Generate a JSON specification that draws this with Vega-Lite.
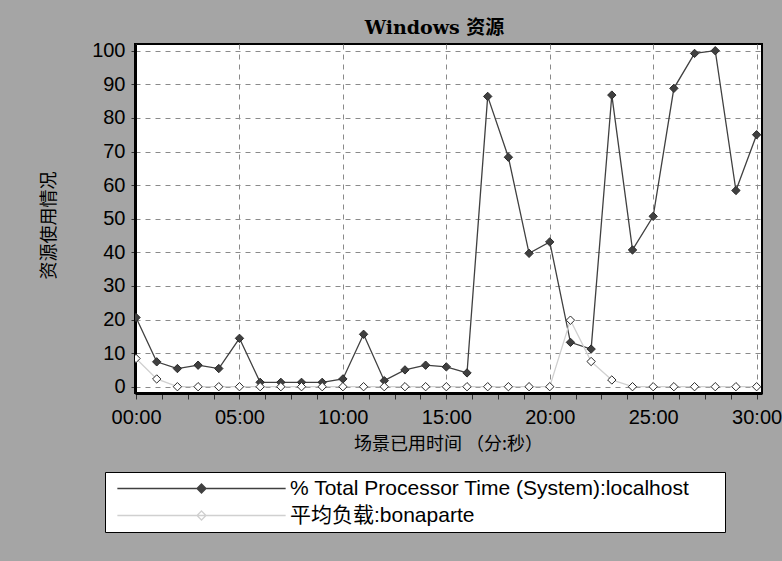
{
  "$schema": "https://vega.github.io/schema/vega-lite/v6.json",
  "width": 627,
  "height": 349,
  "autosize": {"type": "none"},
  "padding": {"left": 135, "top": 44, "right": 20, "bottom": 168},
  "background": "#a5a5a5",
  "title": {"text": "Windows  资源", "font": "DejaVu Serif, Noto Sans CJK SC", "fontSize": 19, "fontWeight": "bold", "color": "#000000", "anchor": "middle", "dx": -14, "dy": 20, "baseline": "middle", "offset": 14},
  "config": {
    "view": {"fill": "white", "stroke": "#000000", "strokeWidth": 2},
    "axis": {"labelFont": "Liberation Sans", "labelFontSize": 20, "labelColor": "#000000", "titleColor": "#000000", "gridColor": "#8a8a8a", "gridDash": [5, 5], "gridWidth": 1, "tickColor": "#303030", "domainColor": "#000000", "domainWidth": 3}
  },
  "data": {"values": [
    {"t": 0, "series": "% Total Processor Time (System):localhost", "v": 20.6},
    {"t": 1, "series": "% Total Processor Time (System):localhost", "v": 7.4},
    {"t": 2, "series": "% Total Processor Time (System):localhost", "v": 5.4},
    {"t": 3, "series": "% Total Processor Time (System):localhost", "v": 6.4},
    {"t": 4, "series": "% Total Processor Time (System):localhost", "v": 5.4},
    {"t": 5, "series": "% Total Processor Time (System):localhost", "v": 14.4},
    {"t": 6, "series": "% Total Processor Time (System):localhost", "v": 1.3},
    {"t": 7, "series": "% Total Processor Time (System):localhost", "v": 1.3},
    {"t": 8, "series": "% Total Processor Time (System):localhost", "v": 1.3},
    {"t": 9, "series": "% Total Processor Time (System):localhost", "v": 1.3},
    {"t": 10, "series": "% Total Processor Time (System):localhost", "v": 2.3},
    {"t": 11, "series": "% Total Processor Time (System):localhost", "v": 15.6},
    {"t": 12, "series": "% Total Processor Time (System):localhost", "v": 1.8},
    {"t": 13, "series": "% Total Processor Time (System):localhost", "v": 5.0},
    {"t": 14, "series": "% Total Processor Time (System):localhost", "v": 6.4},
    {"t": 15, "series": "% Total Processor Time (System):localhost", "v": 5.9},
    {"t": 16, "series": "% Total Processor Time (System):localhost", "v": 4.1},
    {"t": 17, "series": "% Total Processor Time (System):localhost", "v": 86.4},
    {"t": 18, "series": "% Total Processor Time (System):localhost", "v": 68.3},
    {"t": 19, "series": "% Total Processor Time (System):localhost", "v": 39.7},
    {"t": 20, "series": "% Total Processor Time (System):localhost", "v": 43.1},
    {"t": 21, "series": "% Total Processor Time (System):localhost", "v": 13.2},
    {"t": 22, "series": "% Total Processor Time (System):localhost", "v": 11.2},
    {"t": 23, "series": "% Total Processor Time (System):localhost", "v": 86.8},
    {"t": 24, "series": "% Total Processor Time (System):localhost", "v": 40.7},
    {"t": 25, "series": "% Total Processor Time (System):localhost", "v": 50.7},
    {"t": 26, "series": "% Total Processor Time (System):localhost", "v": 88.8},
    {"t": 27, "series": "% Total Processor Time (System):localhost", "v": 99.2},
    {"t": 28, "series": "% Total Processor Time (System):localhost", "v": 100},
    {"t": 29, "series": "% Total Processor Time (System):localhost", "v": 58.4},
    {"t": 30, "series": "% Total Processor Time (System):localhost", "v": 75.0},
    {"t": 0, "series": "平均负载:bonaparte", "v": 8.4},
    {"t": 1, "series": "平均负载:bonaparte", "v": 2.3},
    {"t": 2, "series": "平均负载:bonaparte", "v": 0},
    {"t": 3, "series": "平均负载:bonaparte", "v": 0},
    {"t": 4, "series": "平均负载:bonaparte", "v": 0},
    {"t": 5, "series": "平均负载:bonaparte", "v": 0},
    {"t": 6, "series": "平均负载:bonaparte", "v": 0},
    {"t": 7, "series": "平均负载:bonaparte", "v": 0},
    {"t": 8, "series": "平均负载:bonaparte", "v": 0},
    {"t": 9, "series": "平均负载:bonaparte", "v": 0},
    {"t": 10, "series": "平均负载:bonaparte", "v": 0},
    {"t": 11, "series": "平均负载:bonaparte", "v": 0},
    {"t": 12, "series": "平均负载:bonaparte", "v": 0},
    {"t": 13, "series": "平均负载:bonaparte", "v": 0},
    {"t": 14, "series": "平均负载:bonaparte", "v": 0},
    {"t": 15, "series": "平均负载:bonaparte", "v": 0},
    {"t": 16, "series": "平均负载:bonaparte", "v": 0},
    {"t": 17, "series": "平均负载:bonaparte", "v": 0},
    {"t": 18, "series": "平均负载:bonaparte", "v": 0},
    {"t": 19, "series": "平均负载:bonaparte", "v": 0},
    {"t": 20, "series": "平均负载:bonaparte", "v": 0},
    {"t": 21, "series": "平均负载:bonaparte", "v": 19.8},
    {"t": 22, "series": "平均负载:bonaparte", "v": 7.5},
    {"t": 23, "series": "平均负载:bonaparte", "v": 2.0},
    {"t": 24, "series": "平均负载:bonaparte", "v": 0},
    {"t": 25, "series": "平均负载:bonaparte", "v": 0},
    {"t": 26, "series": "平均负载:bonaparte", "v": 0},
    {"t": 27, "series": "平均负载:bonaparte", "v": 0},
    {"t": 28, "series": "平均负载:bonaparte", "v": 0},
    {"t": 29, "series": "平均负载:bonaparte", "v": 0},
    {"t": 30, "series": "平均负载:bonaparte", "v": 0}
  ]},
  "layer": [
    {
      "mark": {"type": "line", "strokeWidth": 1.3, "clip": true},
      "encoding": {
        "x": {"field": "t", "type": "quantitative", "scale": {"domain": [-0.05, 30.26], "nice": false, "zero": false},
          "axis": {"values": [0, 1.25, 2.5, 3.75, 5, 6.25, 7.5, 8.75, 10, 11.25, 12.5, 13.75, 15, 16.25, 17.5, 18.75, 20, 21.25, 22.5, 23.75, 25, 26.25, 27.5, 28.75, 30], "labelExpr": "datum.value % 5 == 0 ? ((datum.value < 10 ? '0' : '') + datum.value + ':00') : ''", "gridOpacity": {"condition": {"test": "datum.value % 5 == 0", "value": 1}, "value": 0}, "tickSize": 6, "labelPadding": 8, "labelFlush": false, "title": "场景已用时间 （分:秒）", "titleFont": "Noto Sans CJK SC", "titleFontSize": 18, "titleFontWeight": "normal", "titleX": 313, "titleY": 51, "titleBaseline": "middle", "titleAlign": "center"}},
        "y": {"field": "v", "type": "quantitative", "scale": {"domain": [-1.875, 102], "nice": false, "zero": false},
          "axis": {"values": [0, 10, 20, 30, 40, 50, 60, 70, 80, 90, 100], "tickSize": 4, "labelPadding": 6, "title": "资源使用情况", "titleFont": "Noto Sans CJK SC", "titleFontSize": 18, "titleFontWeight": "normal", "titleX": -86, "titleY": 181, "titleAngle": -90, "titleBaseline": "middle", "titleAlign": "center"}},
        "stroke": {"field": "series", "type": "nominal",
          "scale": {"domain": ["% Total Processor Time (System):localhost", "平均负载:bonaparte"], "range": ["#404040", "#d0d0d0"]},
          "legend": {"orient": "none", "legendX": -30, "legendY": 428, "title": null, "symbolType": "M-18.7,0H18.7M0,-1L1,0L0,1L-1,0Z", "symbolSize": 81, "symbolStrokeWidth": 1.3, "symbolOffset": 80, "labelOffset": 78, "labelFont": "Liberation Sans, DejaVu Sans, Noto Sans CJK SC", "labelFontSize": 21, "labelColor": "#000000", "labelLimit": 1000, "padding": 6, "rowPadding": 5, "fillColor": "white", "strokeColor": "#000000", "labelExpr": "datum.label + '\u00a0\u00a0\u00a0\u00a0\u00a0\u200b'"}}
      }
    },
    {
      "mark": {"type": "point", "shape": "diamond", "filled": true, "size": 70, "strokeWidth": 1, "stroke": "#2a2a2a", "opacity": 1, "clip": true},
      "encoding": {
        "x": {"field": "t", "type": "quantitative",
          "axis": {"values": [0, 1.25, 2.5, 3.75, 5, 6.25, 7.5, 8.75, 10, 11.25, 12.5, 13.75, 15, 16.25, 17.5, 18.75, 20, 21.25, 22.5, 23.75, 25, 26.25, 27.5, 28.75, 30], "labelExpr": "datum.value % 5 == 0 ? ((datum.value < 10 ? '0' : '') + datum.value + ':00') : ''", "gridOpacity": {"condition": {"test": "datum.value % 5 == 0", "value": 1}, "value": 0}, "tickSize": 6, "labelPadding": 8, "labelFlush": false, "title": "场景已用时间 （分:秒）", "titleFont": "Noto Sans CJK SC", "titleFontSize": 18, "titleFontWeight": "normal", "titleX": 313, "titleY": 51, "titleBaseline": "middle", "titleAlign": "center"}},
        "y": {"field": "v", "type": "quantitative",
          "axis": {"values": [0, 10, 20, 30, 40, 50, 60, 70, 80, 90, 100], "tickSize": 4, "labelPadding": 6, "title": "资源使用情况", "titleFont": "Noto Sans CJK SC", "titleFontSize": 18, "titleFontWeight": "normal", "titleX": -86, "titleY": 181, "titleAngle": -90, "titleBaseline": "middle", "titleAlign": "center"}},
        "fill": {"field": "series", "type": "nominal",
          "scale": {"domain": ["% Total Processor Time (System):localhost", "平均负载:bonaparte"], "range": ["#404040", "#ffffff"]},
          "legend": {"orient": "none", "legendX": -30, "legendY": 428, "title": null, "symbolType": "M-18.7,0H18.7M0,-1L1,0L0,1L-1,0Z", "symbolSize": 81, "symbolStrokeWidth": 1.3, "symbolOffset": 80, "labelOffset": 78, "labelFont": "Liberation Sans, DejaVu Sans, Noto Sans CJK SC", "labelFontSize": 21, "labelColor": "#000000", "labelLimit": 1000, "padding": 6, "rowPadding": 5, "fillColor": "white", "strokeColor": "#000000", "labelExpr": "datum.label + '\u00a0\u00a0\u00a0\u00a0\u00a0\u200b'"}}
      }
    }
  ]
}
